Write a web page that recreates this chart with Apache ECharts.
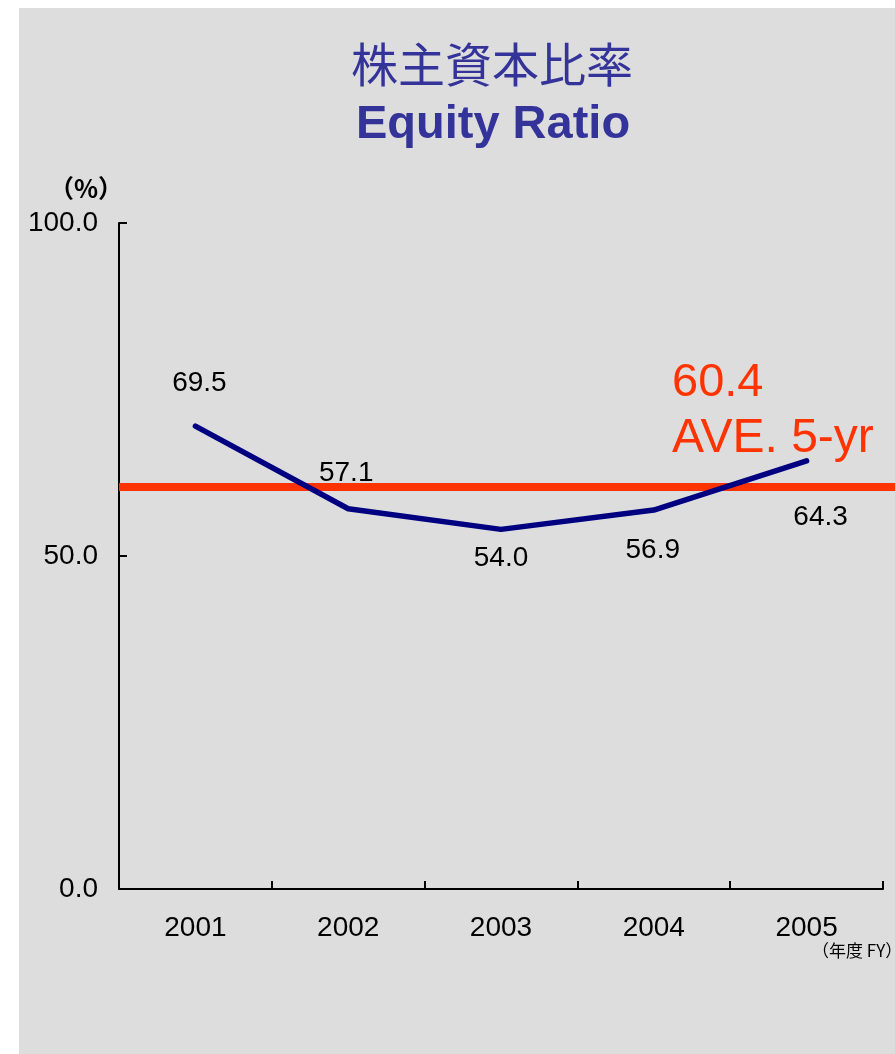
<!DOCTYPE html>
<html>
<head>
<meta charset="utf-8">
<script src="https://cdn.jsdelivr.net/npm/echarts@6/dist/echarts.min.js"></script>
<style>
  html, body { margin: 0; padding: 0; background: #fff; }
  #chart { width: 895px; height: 1054px; }
</style>
</head>
<body>
<div id="chart"></div>
<script>
  // data
  var years = ['2001', '2002', '2003', '2004', '2005'];
  var equityRatio = [69.5, 57.1, 54.0, 56.9, 64.3];
  var average5yr = 60.4;
  var yTicks = [0, 50, 100];

  // where each value label sits relative to its point (px)
  var labelOffsets = [[4, -43], [-2, -35], [0, 29], [-1, 40], [14, 57]];

  var latin = '"Liberation Sans", Arial, sans-serif';
  var cjk = '"Noto Sans CJK JP", "Liberation Sans", sans-serif';

  var chart = echarts.init(document.getElementById('chart'));

  var option = {
    backgroundColor: '#ffffff',
    animation: false,
    title: [
      {
        text: '株主資本比率',
        left: 487, top: 36, textAlign: 'center',
        textStyle: {
          color: '#333399', fontFamily: cjk, fontSize: 47, fontWeight: 'normal',
          textShadowColor: '#a0a0a0', textShadowOffsetX: 2, textShadowOffsetY: 2
        }
      },
      {
        text: 'Equity Ratio',
        left: 488, top: 97, textAlign: 'center',
        textStyle: {
          color: '#333399', fontFamily: latin, fontSize: 47, fontWeight: 'bold',
          textShadowColor: '#a0a0a0', textShadowOffsetX: 2, textShadowOffsetY: 2
        }
      }
    ],
    graphic: [
      { type: 'rect', z: -100, silent: true,
        shape: { x: 19, y: 8, width: 900, height: 1100 },
        style: { fill: '#dddddd' } },
      { type: 'text', x: 86, y: 188, silent: true,
        style: { text: '（%）', fill: '#000', font: 'bold 25px ' + cjk,
                 align: 'center', verticalAlign: 'middle' } },
      { type: 'text', x: 812, y: 951, silent: true,
        style: { text: '（年度 FY）', fill: '#000', font: '17px ' + cjk,
                 align: 'left', verticalAlign: 'middle' } },
      { type: 'text', x: 672, y: 383, silent: true,
        style: { text: average5yr.toFixed(1), fill: '#ff3300', font: '47px ' + latin,
                 align: 'left', verticalAlign: 'middle' } },
      { type: 'text', x: 672, y: 439, silent: true,
        style: { text: 'AVE. 5-yr', fill: '#ff3300', font: '48px ' + latin,
                 align: 'left', verticalAlign: 'middle' } }
    ],
    grid: { left: 119, right: 12, top: 223, bottom: 165, containLabel: false },
    xAxis: {
      type: 'category',
      data: years,
      boundaryGap: true,
      axisLine: { lineStyle: { color: '#000', width: 2 } },
      axisTick: { show: true, inside: true, length: 8, alignWithLabel: false,
                  lineStyle: { color: '#000', width: 2 } },
      axisLabel: { color: '#000', fontFamily: latin, fontSize: 28, margin: 25 },
      splitLine: { show: false }
    },
    yAxis: {
      type: 'value',
      min: yTicks[0], max: yTicks[yTicks.length - 1], interval: yTicks[1] - yTicks[0],
      axisLine: { show: true, lineStyle: { color: '#000', width: 2 } },
      axisTick: { show: true, inside: true, length: 8, lineStyle: { color: '#000', width: 2 } },
      axisLabel: { color: '#000', fontFamily: latin, fontSize: 28, margin: 21,
                   formatter: function (v) { return v.toFixed(1); } },
      splitLine: { show: false }
    },
    series: [
      {
        type: 'line',
        data: equityRatio.map(function (v, i) {
          return { value: v, label: { offset: labelOffsets[i] } };
        }),
        symbol: 'circle',
        symbolSize: 1,
        itemStyle: { color: '#000080' },
        lineStyle: { color: '#000080', width: 5.5, cap: 'round', join: 'round' },
        label: {
          show: true, position: 'inside', color: '#000',
          fontFamily: latin, fontSize: 28,
          formatter: function (p) { return p.value.toFixed(1); }
        },
        z: 3,
        markLine: {
          silent: true,
          symbol: ['none', 'none'],
          label: { show: false },
          lineStyle: { color: '#ff3300', width: 8, type: 'solid' },
          z: 2,
          data: [[{ yAxis: average5yr, x: 119 }, { yAxis: average5yr, x: 895 }]]
        }
      }
    ]
  };

  chart.setOption(option);
</script>
</body>
</html>
